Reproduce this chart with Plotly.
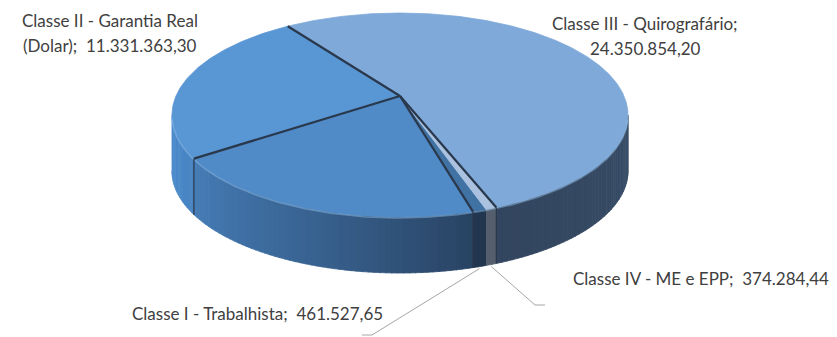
import numpy as np
import plotly.graph_objects as go

# ---------------- data (counter-clockwise drawing order) ----------------
categories = [
    "Classe III - Quirografário",
    "Classe II - Garantia Real (Dolar)",
    "Classe II - Garantia Real",          # slice shown without a label in the reference
    "Classe I - Trabalhista",
    "Classe IV - ME e EPP",
]
values = [24350854.20, 11331363.30, 11000000.00, 461527.65, 374284.44]
show_label = [True, True, False, True, True]

# ---------------- style ----------------
top_colors = [(127, 169, 217), (89, 150, 212), (80, 138, 199), (64, 114, 164), (170, 194, 224)]
wall_light = [(96, 130, 170), (76, 140, 205), (74, 134, 197), (50, 85, 122), (96, 106, 120)]
wall_dark = [(51, 70, 95), (50, 85, 125), (40, 66, 97), (34, 54, 80), (84, 94, 108)]

CX, CY, RX, RY = 400.0, 115.0, 228.0, 102.0
APEX = (400.0, 96.0)
DEPTH = 56.0
START = -65.0  # degrees, counter-clockwise

label_pos = [
    dict(x=645, ys=[23, 48], brk_after=";"),
    dict(x=110, ys=[20, 45], brk_before=" ("),
    None,
    dict(x=257, ys=[313]),
    dict(x=701, ys=[278]),
]
leader_ends = [None, None, None, [(372, 335), (362, 335)], [(535, 305), (545, 305)]]


def fmt_br(v):
    s = f"{v:,.2f}"
    return s.replace(",", "X").replace(".", ",").replace("X", ".")


def rgb(c):
    return f"rgb({int(round(c[0]))},{int(round(c[1]))},{int(round(c[2]))})"


def blend(a, b, t):
    return tuple(a[i] + (b[i] - a[i]) * t for i in range(3))


def ell(theta_deg, dy=0.0):
    t = np.radians(theta_deg)
    return CX + RX * np.cos(t), CY - RY * np.sin(t) + dy


vals = np.array(values, dtype=float)
spans = vals / vals.sum() * 360.0
starts = START + np.concatenate([[0], np.cumsum(spans)[:-1]])
ends = starts + spans

fig = go.Figure()


def add_poly(xs, ys, color, width=1.0):
    fig.add_trace(go.Scatter(
        x=list(xs), y=list(ys), mode="lines", fill="toself",
        fillcolor=rgb(color), line=dict(color=rgb(color), width=width),
        hoverinfo="skip", showlegend=False,
    ))


def wall_t(theta):
    th = theta % 360
    if th <= 290:
        return float(np.clip((th - 180) / 110.0, 0, 1)) ** 1.3
    return 1.0 - 0.1 * float(np.clip((th - 300) / 60.0, 0, 1))


# ---- side walls (front half only: 180..360 degrees) ----
for i in range(len(values)):
    a, b = starts[i] % 360, starts[i] % 360 + spans[i]
    for off in (0.0, 360.0, -360.0):
        lo = max(a + off, 180.0)
        hi = min(b + off, 360.0)
        if hi <= lo:
            continue
        n = max(1, int(np.ceil((hi - lo) / 1.5)))
        edges = np.linspace(lo, hi, n + 1)
        for k in range(n):
            t0, t1 = edges[k], min(edges[k + 1] + 0.2, hi)
            th = np.linspace(t0, t1, 6)
            xt, yt = ell(th)
            xb, yb = ell(th[::-1], DEPTH)
            col = blend(wall_light[i], wall_dark[i], wall_t((t0 + t1) / 2))
            add_poly(np.concatenate([xt, xb]), np.concatenate([yt, yb]), col, width=0.8)

# ---- top faces ----
for i in range(len(values)):
    th = np.linspace(starts[i], ends[i], max(4, int(spans[i] * 2)))
    xa, ya = ell(th)
    xs = np.concatenate([[APEX[0]], xa, [APEX[0]]])
    ys = np.concatenate([[APEX[1]], ya, [APEX[1]]])
    add_poly(xs, ys, top_colors[i], width=0.8)

# ---- rim highlight along front top edge ----
th = np.linspace(182, 358, 200)
xr, yr = ell(th, 1.0)
fig.add_trace(go.Scatter(x=xr, y=yr, mode="lines",
                         line=dict(color="rgba(150,195,235,0.45)", width=1.5),
                         hoverinfo="skip", showlegend=False))

# ---- slice separators ----
sep_col = "rgb(42,56,76)"
for i in range(len(values)):
    bnd = starts[i]
    prev = (i - 1) % len(values)
    if {i, prev} == {3, 4}:
        continue  # no visible dark line between Classe I and Classe IV
    px, py = ell(bnd)
    fig.add_trace(go.Scatter(x=[APEX[0], px], y=[APEX[1], py], mode="lines",
                             line=dict(color=sep_col, width=2.2),
                             hoverinfo="skip", showlegend=False))
    if 180 < (bnd % 360) < 360:
        bx, by = ell(bnd, DEPTH)
        fig.add_trace(go.Scatter(x=[px, bx], y=[py, by], mode="lines",
                                 line=dict(color=sep_col, width=1.2),
                                 hoverinfo="skip", showlegend=False))

# ---- leader lines ----
for i in range(len(values)):
    if leader_ends[i] is None:
        continue
    mid = (starts[i] + ends[i]) / 2
    sx, sy = ell(mid, DEPTH + 2)
    xs = [sx] + [p[0] for p in leader_ends[i]]
    ys = [sy] + [p[1] for p in leader_ends[i]]
    fig.add_trace(go.Scatter(x=xs, y=ys, mode="lines",
                             line=dict(color="rgb(166,166,166)", width=1),
                             hoverinfo="skip", showlegend=False))

# ---- labels ----
annotations = []
for i in range(len(values)):
    if not show_label[i] or label_pos[i] is None:
        continue
    txt = f"{categories[i]};\u00a0\u00a0{fmt_br(values[i])}"
    lp = label_pos[i]
    if "brk_after" in lp:
        k = txt.find(lp["brk_after"]) + len(lp["brk_after"])
        lines = [txt[:k], txt[k:].strip("\u00a0 ")]
    elif "brk_before" in lp:
        k = txt.find(lp["brk_before"])
        lines = [txt[:k], txt[k:].strip()]
    else:
        lines = [txt]
    for line, y in zip(lines, lp["ys"]):
        annotations.append(dict(
            x=lp["x"], y=y, xref="x", yref="y", text=line, showarrow=False,
            xanchor="center", yanchor="middle",
            font=dict(family="Lato, Open Sans, sans-serif", size=17, color="#404040"),
        ))

fig.update_layout(
    width=837, height=337,
    margin=dict(l=0, r=0, t=0, b=0),
    paper_bgcolor="white", plot_bgcolor="white",
    xaxis=dict(range=[0, 837], visible=False, fixedrange=True),
    yaxis=dict(range=[337, 0], visible=False, fixedrange=True),
    annotations=annotations,
    showlegend=False,
)

fig.write_html("out.html")
